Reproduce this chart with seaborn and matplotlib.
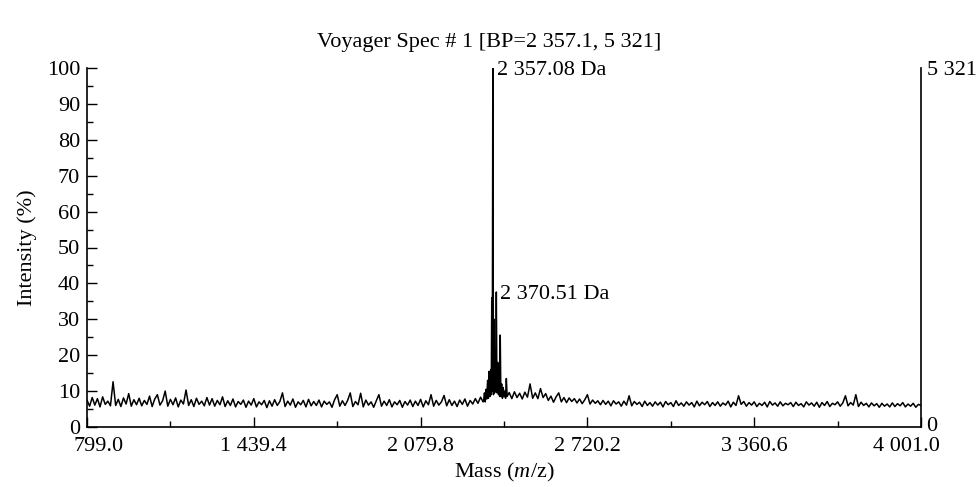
import numpy as np
import pandas as pd
import matplotlib
matplotlib.use("Agg")
import matplotlib.pyplot as plt
import matplotlib.transforms as mtransforms
import seaborn as sns

# ---------------- data ----------------
mass_start = 799.0
mass_end = 4001.0

# baseline / noise intensities (%), sampled every ~10 Da from 799 to 4001
base_intensity = [
    7.5, 5.8, 8.2, 6.1, 7.9, 5.6, 8.4, 6.3, 7.2, 5.9,
    12.6, 6.0, 7.7, 5.7, 8.1, 6.4, 9.3, 5.8, 7.6, 6.2,
    8.0, 5.9, 7.4, 6.3, 8.6, 5.7, 7.8, 9.0, 6.1, 7.3,
    10.0, 5.8, 7.7, 6.2, 8.1, 5.6, 7.5, 6.4, 10.3, 6.0,
    7.6, 5.7, 8.0, 6.3, 7.2, 5.9, 8.2, 6.1, 7.9, 5.8,
    7.4, 6.2, 8.4, 5.7, 7.3, 6.0, 7.8, 5.6, 7.1, 6.3,
    7.5, 5.5, 7.2, 6.1, 7.9, 5.6, 7.0, 6.2, 7.4, 5.4,
    7.3, 5.8, 7.6, 6.0, 7.1, 9.5, 5.7, 7.2, 6.1, 7.8,
    5.5, 7.0, 6.2, 7.4, 5.6, 7.7, 5.9, 7.1, 6.0, 7.5,
    5.6, 7.2, 6.3, 7.0, 5.5, 7.6, 9.0, 5.8, 7.3, 6.0,
    7.4, 9.5, 5.7, 7.1, 6.2, 9.4, 5.6, 7.5, 6.1, 7.0,
    5.5, 7.3, 9.0, 5.8, 7.2, 6.0, 7.6, 5.6, 7.0, 6.2,
    7.4, 5.5, 7.1, 6.1, 7.5, 5.7, 7.2, 6.0, 7.7, 5.6,
    7.3, 6.2, 9.0, 5.8, 7.4, 6.1, 7.0, 8.8, 5.9, 7.6,
    6.0, 7.2, 5.7, 7.5, 6.3, 7.8, 5.8, 7.4, 6.4, 7.9,
    6.6, 8.3, 7.0, 8.5, 9.0, 9.5, 9.0, 9.5, 9.0, 9.5,
    9.0, 8.5, 9.6, 7.9, 9.8, 8.2, 9.4, 7.8, 9.7, 8.3,
    12.0, 8.0, 9.5, 7.9, 10.7, 8.2, 9.3, 7.4, 8.6, 6.9,
    8.4, 9.5, 7.0, 8.2, 6.8, 8.1, 7.1, 7.9, 6.7, 7.8,
    6.5, 7.6, 9.0, 6.4, 7.5, 6.6, 7.3, 6.2, 7.4, 6.3,
    7.2, 5.9, 7.3, 6.4, 7.0, 5.8, 7.2, 6.1, 8.7, 5.9,
    7.1, 6.3, 6.9, 5.7, 7.2, 6.0, 6.8, 5.8, 7.0, 6.1,
    6.9, 5.6, 7.1, 6.2, 6.8, 5.7, 7.3, 6.0, 6.7, 5.8,
    7.0, 6.1, 6.8, 5.6, 7.2, 5.9, 6.9, 6.2, 7.1, 5.7,
    6.8, 6.0, 7.0, 5.8, 6.7, 6.1, 7.2, 5.6, 6.9, 6.0,
    8.7, 6.3, 7.1, 5.8, 6.8, 6.1, 7.0, 5.7, 6.6, 6.0,
    6.9, 5.6, 7.1, 6.1, 6.7, 5.8, 7.0, 5.9, 6.6, 6.2,
    6.8, 5.7, 6.9, 6.0, 6.5, 5.6, 7.0, 6.1, 6.7, 5.8,
    6.9, 5.5, 6.8, 6.0, 7.1, 5.7, 6.6, 6.2, 7.0, 5.8,
    6.7, 8.7, 5.9, 6.8, 6.1, 9.0, 5.7, 6.9, 6.0, 6.6,
    5.6, 6.7, 5.9, 6.5, 5.5, 6.6, 5.8, 6.4, 5.6, 6.7,
    5.7, 6.5, 5.9, 6.8, 5.6, 6.4, 5.8, 6.6, 5.5, 6.3, 6.0,
]

# isotope cluster region (fine sampling)
cluster_mass = [
    2322, 2325, 2328, 2331, 2334, 2337, 2340, 2343, 2346, 2349,
    2351, 2353, 2355, 2357.08, 2359.5, 2362, 2364, 2366, 2368, 2370.51,
    2373, 2376, 2379, 2381, 2383.5, 2385.5, 2388, 2391, 2394, 2397,
    2400, 2403, 2406, 2409, 2412,
]
cluster_intensity = [
    7.5, 9.5, 7.0, 10.5, 7.8, 13.0, 8.0, 15.5, 8.5, 16.0,
    9.0, 36.0, 10.0, 100.0, 9.0, 30.0, 9.5, 20.0, 10.0, 37.6,
    9.5, 18.0, 9.0, 14.0, 8.5, 25.6, 8.5, 12.0, 8.0, 11.0,
    8.5, 10.0, 8.0, 13.5, 8.5,
]

peak_labels = ["2 357.08 Da", "2 370.51 Da"]
peak_label_mass = [2357.08, 2370.51]
peak_label_int = [100.0, 37.6]

x_tick_values = [799.0, 1439.4, 2079.8, 2720.2, 3360.6, 4001.0]
x_tick_labels = ["799.0", "1 439.4", "2 079.8", "2 720.2", "3 360.6", "4 001.0"]
right_tick_values = [0, 5321]
right_tick_labels = ["0", "5 321"]

title = "Voyager Spec # 1 [BP=2 357.1, 5 321]"

# ---------------- build table ----------------
base_mass = np.linspace(mass_start, mass_end, len(base_intensity))
base_df = pd.DataFrame({"mass": base_mass, "intensity": base_intensity})
base_df = base_df[(base_df["mass"] < 2321) | (base_df["mass"] > 2413)]
cl_df = pd.DataFrame({"mass": cluster_mass, "intensity": cluster_intensity})
df = pd.concat([base_df, cl_df]).sort_values("mass").reset_index(drop=True)

# ---------------- style ----------------
sns.set_theme(style="ticks")
plt.rcParams["font.family"] = ["Liberation Serif", "DejaVu Serif"]
plt.rcParams["mathtext.fontset"] = "custom"
plt.rcParams["mathtext.rm"] = "Liberation Serif"
plt.rcParams["mathtext.it"] = "Liberation Serif:italic"
fs = 16

fig = plt.figure(figsize=(9.79, 4.87), dpi=100)
ax = fig.add_axes([87 / 979, 1 - 427 / 487, (921 - 87) / 979, (427 - 68) / 487])

sns.lineplot(data=df, x="mass", y="intensity", estimator=None, sort=True,
             color="black", lw=1.1, ax=ax)

ax.set_xlim(mass_start, mass_end)
ax.set_ylim(0, 100)

ax.set_xticks(x_tick_values)
ax.set_xticklabels(x_tick_labels)
minor_x = [(a + b) / 2 for a, b in zip(x_tick_values[:-1], x_tick_values[1:])]
ax.set_xticks(minor_x, minor=True)
ax.set_yticks(np.arange(0, 101, 10))
ax.set_yticks(np.arange(5, 100, 10), minor=True)

ax.tick_params(axis="both", which="major", direction="in", length=7, width=1.0,
               color="black", labelsize=fs, labelcolor="black")
ax.tick_params(axis="both", which="minor", direction="in", length=4, width=1.0,
               color="black")
ax.tick_params(axis="x", which="major", pad=7)
ax.tick_params(axis="y", which="major", pad=5)

# shift first / last x tick labels inward
labels = ax.get_xticklabels()
labels[0].set_transform(labels[0].get_transform() +
                        mtransforms.ScaledTranslation(12 / 100, 0, fig.dpi_scale_trans))
labels[-1].set_transform(labels[-1].get_transform() +
                         mtransforms.ScaledTranslation(-15 / 100, 0, fig.dpi_scale_trans))

for side in ["top", "right"]:
    ax.spines[side].set_visible(False)
for side in ["left", "bottom"]:
    ax.spines[side].set_color("black")
    ax.spines[side].set_linewidth(1.2)

ax.set_xlabel("Mass ($m$/z)", fontsize=fs, labelpad=4, color="black")
ax.set_ylabel("Intensity (%)", fontsize=fs, labelpad=7, color="black")

# right absolute-count axis
ax2 = ax.twinx()
ax2.set_ylim(0, 5321)
ax2.set_yticks(right_tick_values)
ax2.set_yticklabels(right_tick_labels)
ax2.tick_params(axis="y", length=0, pad=4, labelsize=fs, labelcolor="black")
rlabels = ax2.get_yticklabels()
rlabels[0].set_transform(rlabels[0].get_transform() +
                         mtransforms.ScaledTranslation(0, 3 / 100, fig.dpi_scale_trans))
for side in ["top", "left", "bottom"]:
    ax2.spines[side].set_visible(False)
ax2.spines["right"].set_color("black")
ax2.spines["right"].set_linewidth(1.2)

# peak annotations
for lab, m, v in zip(peak_labels, peak_label_mass, peak_label_int):
    ax.annotate(lab, xy=(m, v), xytext=(3, -2), textcoords="offset points",
                ha="left", va="center", fontsize=fs, color="black")

fig.suptitle(title, x=0.5, y=1 - 42 / 487, va="center", fontsize=fs, color="black")

fig.savefig("out.png", dpi=100)
